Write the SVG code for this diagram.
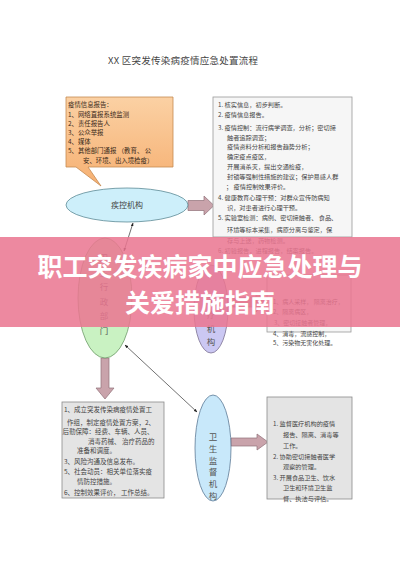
<svg xmlns="http://www.w3.org/2000/svg" width="400" height="566" viewBox="0 0 400 566">
<defs>
<style>
.t{font-family:"Noto Sans CJK SC","Noto Sans",sans-serif;fill:#444;}
.s{font-size:6.2px;}
.o{font-size:6.4px;fill:#3a2a1a;}
.v{font-size:8.5px;text-anchor:middle;fill:#555;}
.box{fill:#f6f6f6;stroke:#9a9a9a;stroke-width:0.8;}
.gbox{fill:#e4e4e4;stroke:#8a8a8a;stroke-width:0.8;}
.barrow{fill:#c9a3ab;stroke:#8f7078;stroke-width:0.7;}
.thin{stroke:#333;stroke-width:0.7;fill:none;marker-start:url(#ah);marker-end:url(#ah);}
</style>
<marker id="ah" viewBox="0 0 10 10" refX="9" refY="5" markerWidth="5" markerHeight="5" orient="auto-start-reverse">
<path d="M0,1 L10,5 L0,9 Z" fill="#222"/>
</marker>
<linearGradient id="og" x1="0" y1="0" x2="0" y2="1">
<stop offset="0" stop-color="#fbd1a4"/>
<stop offset="1" stop-color="#f6b072"/>
</linearGradient>
</defs>
<rect width="400" height="566" fill="#ffffff"/>

<text class="t" x="108" y="64" font-size="9.5" fill="#444" textLength="150">XX 区突发传染病疫情应急处置流程</text>

<g id="connectors">
<polygon class="barrow" points="188,200.5 204,200.5 204,196 214,205.5 204,215 204,210.5 188,210.5"/>
<polygon class="barrow" points="228,297 256,297 256,292 267,302 256,312 256,307 228,307"/>
<polygon class="barrow" points="101,358 109,358 109,388 114,388 105,399 96,388 101,388"/>
<polygon class="barrow" points="231,438 257,438 257,434 268,442 257,450 257,446 231,446"/>
<line class="thin" x1="133" y1="223" x2="124" y2="251"/>
<line class="thin" x1="125" y1="345" x2="197" y2="412"/>
</g>

<g id="info-report">
<path d="M66,97 H173 V167 H88 L101,186 L76,167 H66 Z" fill="url(#og)" stroke="#c58a52" stroke-width="0.8"/>
<text class="t o" x="68" y="107">疫情信息报告：</text>
<text class="t o" x="68" y="116.5">1、网络直报系统监测</text>
<text class="t o" x="68" y="125.5">2、责任报告人</text>
<text class="t o" x="68" y="135">3、公众举报</text>
<text class="t o" x="68" y="144">4、媒体</text>
<text class="t o" x="68" y="153">5、其他部门通报 （教育、 公</text>
<text class="t o" x="83" y="163">安、环境、出入境检疫）</text>
</g>

<g id="cdc">
<ellipse cx="127" cy="205" rx="61" ry="17" fill="#cdeffa" stroke="#5d8a96" stroke-width="0.8"/>
<text class="t" x="127" y="208" font-size="8" text-anchor="middle" fill="#444">疾控机构</text>
</g>

<g id="cdc-tasks">
<rect class="box" x="213" y="97" width="139" height="140"/>
<text class="t s" x="218" y="107">1. 核实信息，初步判断。</text>
<text class="t s" x="218" y="117">2. 疫情信息报告。</text>
<text class="t s" x="218" y="130">3. 疫情控制：流行病学调查，分析；密切接</text>
<text class="t s" x="227" y="140">触者追踪调查；</text>
<text class="t s" x="227" y="149">疫情资料分析和报告趋势分析；</text>
<text class="t s" x="227" y="159">确定疫点疫区，</text>
<text class="t s" x="227" y="169">开展消杀灭，提出交通检疫，</text>
<text class="t s" x="227" y="179">封锁等强制性措施的建议；保护易感人群</text>
<text class="t s" x="226" y="189">； 疫情控制效果评价。</text>
<text class="t s" x="218" y="200">4. 健康教育心理干预：对群众宣传防病知</text>
<text class="t s" x="227" y="210">识，对患者进行心理干预。</text>
<text class="t s" x="218" y="220">5. 实验室检测：病例、密切接触者、 食品、</text>
<text class="t s" x="227" y="232">环境等标本采集，病原分离与鉴定，保</text>
<text class="t s" x="227" y="243">存与上送，药物检测。</text>
<text class="t s" x="218" y="253">6. 初验报告，进程报告，结案报告。</text>
</g>

<g id="health-admin">
<ellipse cx="105" cy="298" rx="27" ry="60" fill="#c9f2c2" stroke="#6f9a6a" stroke-width="0.8"/>
<text class="t v" x="104"><tspan x="104" y="261">卫</tspan><tspan x="104" y="276">生</tspan><tspan x="104" y="290">行</tspan><tspan x="104" y="305">政</tspan><tspan x="104" y="319">部</tspan><tspan x="104" y="334">门</tspan></text>
</g>

<g id="medical">
<ellipse cx="211" cy="309" rx="17" ry="44" fill="#cbc8f3" stroke="#7a6e90" stroke-width="0.8"/>
<text class="t v" x="211"><tspan x="211" y="304">医</tspan><tspan x="211" y="318">疗</tspan><tspan x="211" y="332">机</tspan><tspan x="211" y="345">构</tspan></text>
</g>

<g id="medical-tasks">
<rect class="box" x="267" y="275" width="84" height="57"/>
<text class="t" x="273" y="304" font-size="6">1、病人采样， 隔离治疗，</text>
<text class="t" x="273" y="314" font-size="6">2、隔离病区，</text>
<text class="t" x="274" y="325" font-size="6">3、密切接触者管理，</text>
<text class="t" x="273" y="336" font-size="6">4、消毒，流感控制，</text>
<text class="t" x="273" y="345" font-size="6">5、污染物无害化处理。</text>
</g>

<g id="admin-tasks">
<rect class="gbox" x="62" y="402" width="102" height="96"/>
<text class="t" x="64" y="411.5" font-size="6.5">1、成立突发传染病疫情处置工</text>
<text class="t" x="67" y="424.5" font-size="6.5">作组，制定疫情处置方案，2、</text>
<text class="t" x="62.5" y="433.5" font-size="6.5">后勤保障：经费、车辆、人员、</text>
<text class="t" x="88" y="443.5" font-size="6.5">消毒药械、 治疗药品的</text>
<text class="t" x="77" y="452.5" font-size="6.5">准备和调度。</text>
<text class="t" x="64" y="463.5" font-size="6.5">3、风险沟通及信息发布。</text>
<text class="t" x="64" y="473.5" font-size="6.5">5、社会动员：相关单位落实疫</text>
<text class="t" x="77" y="483.5" font-size="6.5">情防控措施。</text>
<text class="t" x="64" y="494.5" font-size="6.5">6、控制效果评价， 工作总结。</text>
</g>

<g id="supervision">
<ellipse cx="213" cy="448" rx="18" ry="53" fill="#c8e8fa" stroke="#5d7a96" stroke-width="0.8"/>
<text class="t v" x="213" font-size="9"><tspan x="213" y="440">卫</tspan><tspan x="213" y="452">生</tspan><tspan x="213" y="464">监</tspan><tspan x="213" y="475">督</tspan><tspan x="213" y="487">机</tspan><tspan x="213" y="499">构</tspan></text>
</g>

<g id="supervision-tasks">
<rect class="gbox" x="267" y="397" width="85" height="102"/>
<text class="t s" x="273" y="426">1. 监督医疗机构的疫情</text>
<text class="t s" x="283" y="437">报告、隔离、消毒等</text>
<text class="t s" x="283" y="448">工作。</text>
<text class="t s" x="273" y="459">2. 协助密切接触者医学</text>
<text class="t s" x="283" y="469">观察的管理。</text>
<text class="t s" x="273" y="480">3. 开展食品卫生、饮水</text>
<text class="t s" x="283" y="490">卫生和环境卫生监</text>
<text class="t s" x="283" y="501">督、执法与评估。</text>
</g>

<g id="banner">
<rect x="0" y="237" width="400" height="90" fill="#ea7690" opacity="0.86"/>
<text x="200" y="276" font-family="'Noto Sans CJK SC','Noto Sans',sans-serif" font-size="25" font-weight="bold" fill="#ffffff" text-anchor="middle">职工突发疾病家中应急处理与</text>
<text x="200" y="312" font-family="'Noto Sans CJK SC','Noto Sans',sans-serif" font-size="25" font-weight="bold" fill="#ffffff" text-anchor="middle">关爱措施指南</text>
</g>
</svg>
